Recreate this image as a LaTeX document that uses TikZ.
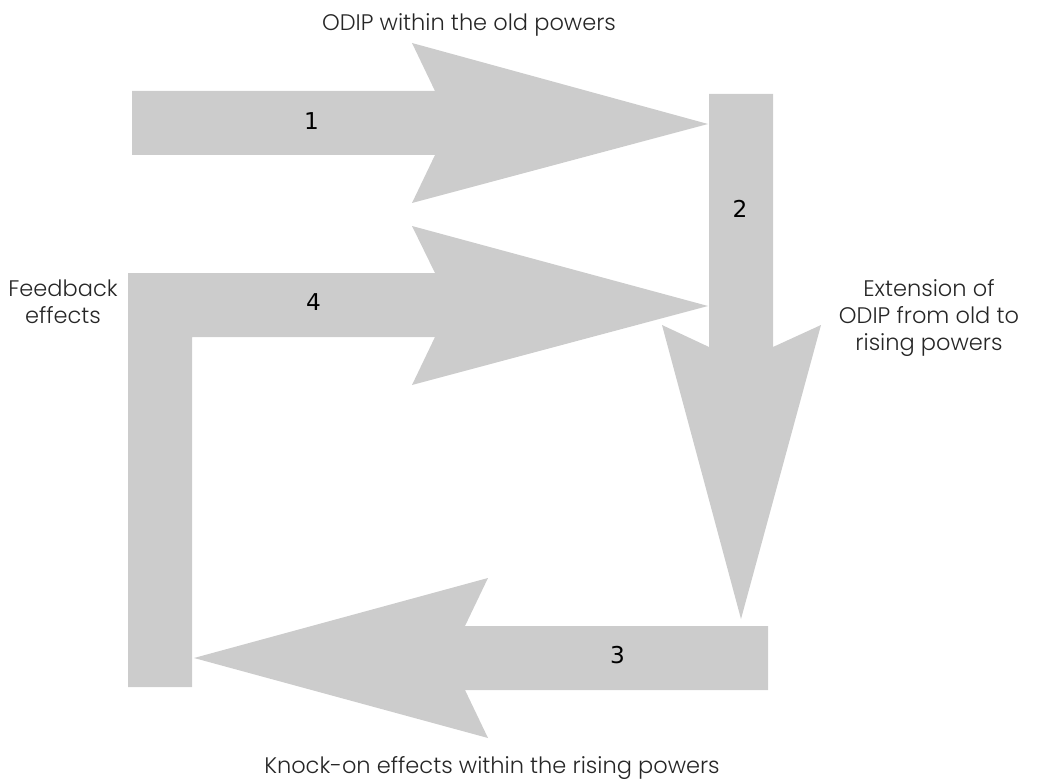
\documentclass[tikz,border=0pt]{standalone}
\usepackage{fontspec}
\setmainfont{Poppins}[UprightFont=* Light]
\newfontfamily\numfont{DejaVu Sans}
\usepackage{tikz}
\usetikzlibrary{positioning}
\usepackage{xcolor}
\definecolor{arrowgray}{HTML}{CCCCCC}

\begin{document}
\begin{tikzpicture}[x=0.025cm, y=-0.025cm, blockarrow/.style={fill=arrowgray, draw=none}, caption/.style={font=\fontsize{16}{19.5}\selectfont, text=black!85, align=center, inner sep=0pt}, stepnum/.style={font=\numfont\fontsize{16.5}{18}\selectfont, inner sep=0pt, anchor=base}]
                      \useasboundingbox (0,0) rectangle (1042,782);

                      % arrow 1: old powers
                      \fill[blockarrow] (132,91) -- (435,91) -- (412,43) -- (708,124) -- (412,203) -- (435,155) -- (132,155) -- cycle;
                      % arrow 2: down the right side
                      \fill[blockarrow] (709,94) -- (773,94) -- (773,347) -- (821,325) -- (741,619) -- (662,325) -- (709,347) -- cycle;
                      % arrow 3: back along the bottom
                      \fill[blockarrow] (768,626) -- (465,626) -- (488,578) -- (194,658) -- (488,738) -- (465,690) -- (768,690) -- cycle;
                      % arrow 4: feedback, bent
                      \fill[blockarrow] (128,687) -- (128,273) -- (435,273) -- (412,226) -- (708,306) -- (412,385) -- (435,337) -- (192,337) -- (192,687) -- cycle;

                      \node[stepnum] (n1) at (311.5,130) {1};
                      \node[stepnum] (n2) at (740,217.3) {2};
                      \node[stepnum] (n3) at (617.5,663) {3};
                      \node[stepnum] (n4) at (313.5,310.7) {4};

                      \node[caption, anchor=base] (oldpowers) at (469,30.5) {ODIP within the old powers};
                      \node[caption] (feedback) at (63,302) {Feedback\\effects};
                      \node[caption] (extension) at (929,318) {Extension of\\ODIP from old to\\rising powers};
                      \node[caption, anchor=base] (knockon) at (492,773) {Knock-on effects within the rising powers};

                    \end{tikzpicture}
\end{document}
